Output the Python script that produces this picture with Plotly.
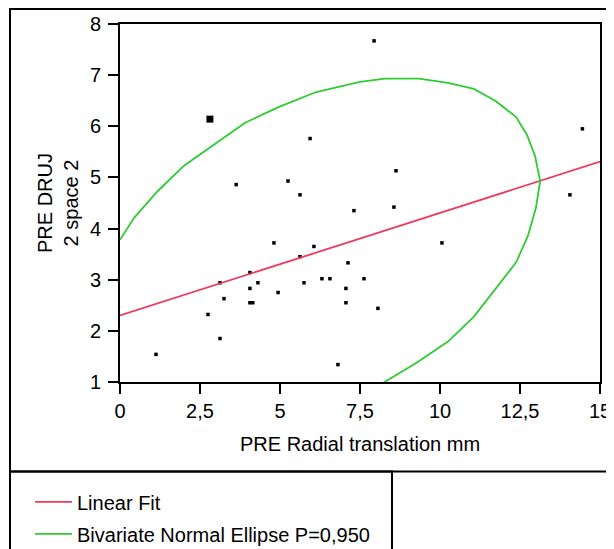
import plotly.graph_objects as go

# Scatter data
x_pts = [5.94, 3.63, 5.25, 5.625, 7.94, 14.45, 8.625, 14.06, 7.31, 4.81, 6.06, 5.625,
         7.125, 4.06, 3.125, 4.31, 5.75, 6.31, 6.56, 4.06, 7.06, 3.25, 4.94, 4.06, 4.15,
         7.06, 2.75, 3.125, 1.125, 6.81, 8.56, 10.06, 7.625, 8.06]
y_pts = [5.76, 4.86, 4.93, 4.66, 7.67, 5.95, 5.13, 4.66, 4.35, 3.72, 3.65, 3.45,
         3.33, 3.14, 2.94, 2.94, 2.94, 3.02, 3.02, 2.83, 2.83, 2.63, 2.75, 2.55, 2.55,
         2.55, 2.32, 1.85, 1.54, 1.34, 4.42, 3.72, 3.02, 2.44]
x_big = [2.81]
y_big = [6.14]

# Linear fit endpoints
fit_x = [0, 15]
fit_y = [2.30, 5.31]

# Bivariate normal ellipse (visible part)
ell_x = [0, 0.44, 1.19, 2.0, 3.91, 4.97, 6.13, 7.5, 8.28, 9.34, 10.25, 11.06, 11.75,
         12.38, 12.72, 12.97, 13.13, 13.0, 12.75, 12.38, 11.06, 10.25, 9.28, 8.19]
ell_y = [3.78, 4.21, 4.74, 5.23, 6.07, 6.38, 6.67, 6.87, 6.93, 6.93, 6.85, 6.73, 6.49,
         6.18, 5.83, 5.42, 4.93, 4.41, 3.86, 3.34, 2.28, 1.79, 1.38, 0.97]

x_ticks = [0, 2.5, 5, 7.5, 10, 12.5, 15]
x_ticktext = ["0", "2,5", "5", "7,5", "10", "12,5", "15"]
y_ticks = [1, 2, 3, 4, 5, 6, 7, 8]

FONT = "Liberation Sans, Arial, sans-serif"
OFF = 8  # page body margin
W, H = 606, 541
L, R, T, B = 112, 14, 16, 166.5
pw, ph = W - L - R, H - T - B

def px(xp):  # page x -> paper
    return (xp - OFF - L) / pw

def py(yp):  # page y -> paper
    return (H - B - (yp - OFF)) / ph

fig = go.Figure()
fig.add_trace(go.Scatter(x=x_pts, y=y_pts, mode="markers",
                         marker=dict(symbol="square", size=3.5, color="black"),
                         showlegend=False))
fig.add_trace(go.Scatter(x=x_big, y=y_big, mode="markers",
                         marker=dict(symbol="square", size=7, color="black"),
                         showlegend=False))
fig.add_trace(go.Scatter(x=fit_x, y=fit_y, mode="lines", name="Linear Fit",
                         line=dict(color="#EE3A5E", width=1.8), legendgroup="a"))
fig.add_trace(go.Scatter(x=ell_x, y=ell_y, mode="lines",
                         name="Bivariate Normal Ellipse P=0,950",
                         line=dict(color="#2ECC33", width=1.8), legendgroup="b"))

axis_common = dict(showgrid=False, zeroline=False, showline=True, linecolor="black",
                   linewidth=2, mirror=True, ticks="outside", ticklen=10,
                   tickcolor="black", tickwidth=2, automargin=False,
                   tickfont=dict(family=FONT, size=20, color="black"))

fig.update_xaxes(range=[0, 15], tickvals=x_ticks, ticktext=x_ticktext,
                 title=dict(text="PRE Radial translation mm", standoff=16,
                            font=dict(family=FONT, size=20, color="black")),
                 **axis_common)
fig.update_yaxes(range=[1, 8], tickvals=y_ticks, ticklabelstandoff=3,
                 title=dict(text="PRE DRUJ<br>2 space 2", standoff=6,
                            font=dict(family=FONT, size=20, color="black")),
                 **axis_common)

shapes = [
    # outer frame
    dict(type="rect", xref="paper", yref="paper", x0=px(10), x1=px(630), y0=py(472), y1=py(9),
         line=dict(color="black", width=2), layer="below"),
    # legend box
    dict(type="rect", xref="paper", yref="paper", x0=px(10), x1=px(392), y0=py(560), y1=py(472),
         line=dict(color="black", width=2), layer="below"),
]

fig.update_layout(
    width=W, height=H,
    margin=dict(l=L, r=R, t=T, b=B, autoexpand=False),
    paper_bgcolor="white", plot_bgcolor="white",
    shapes=shapes,
    showlegend=True,
    legend=dict(x=px(30), y=py(483), xanchor="left", yanchor="top",
                bgcolor="rgba(0,0,0,0)", borderwidth=0, tracegroupgap=3, itemwidth=37,
                font=dict(family=FONT, size=20, color="black")),
)

fig.write_html("out.html")
